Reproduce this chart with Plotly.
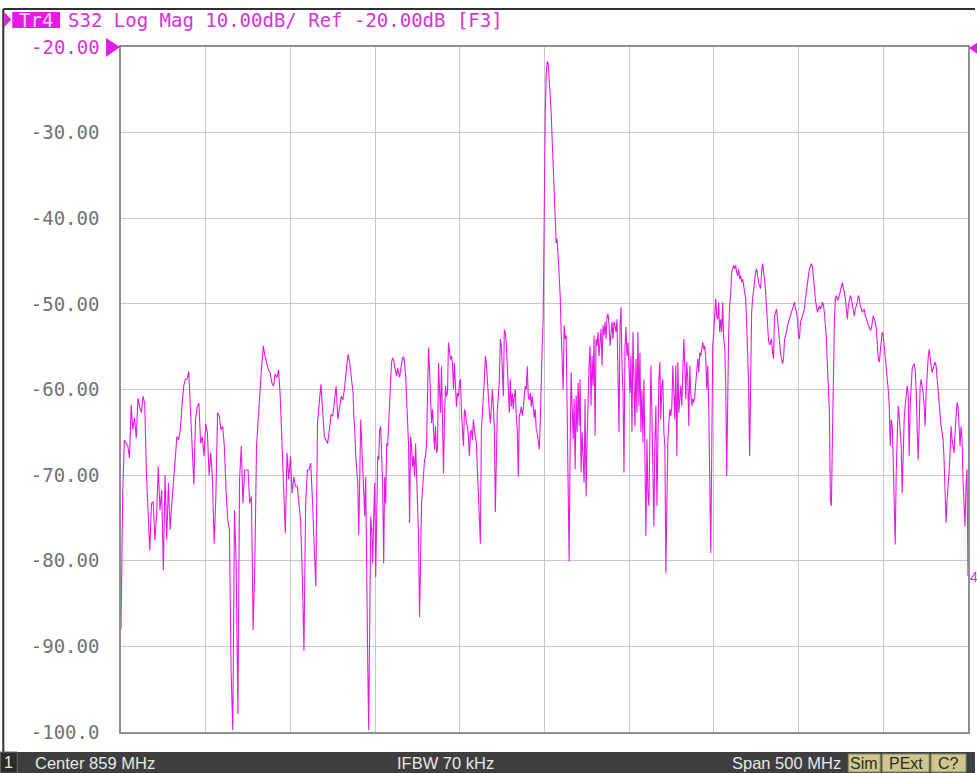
import numpy as np
import plotly.graph_objects as go

# ---- data ----
center_mhz = 859
span_mhz = 500
y_ticks = [-30, -40, -50, -60, -70, -80, -90, -100]
y_tick_text = ["-30.00", "-40.00", "-50.00", "-60.00", "-70.00", "-80.00", "-90.00", "-100.0"]
ref_level = -20

# part 1: 609..746 MHz, read every 1 MHz
s32_db_low = [
    -88, -72.1, -65.9, -66.3, -66.6, -68, -61.8, -64.7, -63.3, -65.7,
    -61, -62, -62.7, -60.8, -61.6, -69.8, -74.5, -78.8, -73.3, -73.1,
    -77.6, -74.8, -69, -74.1, -71.7, -81.1, -70, -77.6, -70.9, -76.4,
    -73.3, -70.9, -68.6, -65.5, -65.9, -64.7, -62, -59.6, -58.8, -58.8,
    -57.9, -62, -67, -71.1, -63.5, -62, -61.6, -66.3, -65.5, -67.8,
    -64, -65.1, -70, -67.4, -70.5, -78, -72.5, -62.7, -63.1, -64.7,
    -64.3, -66.6, -71.7, -75.2, -76.4, -93, -99.8, -74.1, -80.5, -97.9,
    -70.5, -66.6, -73.3, -69.4, -69.4, -69.4, -73.3, -72.5, -88.1, -80.5,
    -66.6, -62.7, -60.4, -57.3, -54.9, -56.1, -57.1, -57.7, -58, -59.2,
    -59.6, -58.2, -58.6, -57.7, -60.8, -65.5, -71.3, -76.8, -67.4, -70.5,
    -67.8, -72.1, -70.2, -71.3, -71.3, -73.7, -75.2, -81.5, -90.5, -73.3,
    -69.4, -69.4, -68.6, -72.9, -77.2, -83, -63.9, -61.6, -59.4, -62.3,
    -65.5, -65.9, -66.3, -64.7, -62.9, -63.1, -61.2, -59.6, -63.5, -62.3,
    -60.8, -61.2, -59.8, -57.7, -55.9, -56.9, -58.8, -60.4,
]
low_start_mhz, low_stop_mhz = 609, 746

# part 2: 746.4..1109 MHz, read on a finer sweep grid (617 points)
s32_db_high = [
    # 746 - 858 MHz
    -63.1, -64.7, -67.8, -70.2, -70.9, -77.0, -68.6, -63.5, -66.3, -69.4,
    -70.5, -74.8, -70.2, -85.0, -92.0, -99.8, -84.2, -74.8, -76.4, -80.3,
    -74.8, -70.9, -81.9, -73.3, -67.8, -68.2, -64.7, -64.3, -67.0, -71.3,
    -80.3, -70.2, -73.3, -66.3, -66.6, -64.7, -61.6, -58.8, -56.7, -56.3,
    -56.6, -57.3, -57.9, -58.4, -57.5, -58.0, -58.6, -57.7, -56.7, -56.3,
    -56.2, -56.9, -58.4, -61.6, -65.1, -66.6, -75.6, -65.5, -66.6, -69.0,
    -67.8, -70.2, -66.3, -70.2, -74.8, -77.2, -86.6, -77.2, -73.3, -71.7,
    -69.8, -68.2, -67.8, -66.3, -60.8, -55.1, -57.7, -62.0, -63.9, -62.3,
    -64.7, -67.0, -64.3, -67.4, -67.0, -56.9, -60.0, -62.7, -57.3, -62.3,
    -69.8, -63.1, -59.6, -60.8, -60.4, -54.5, -55.3, -56.5, -56.1, -56.9,
    -60.0, -56.9, -59.6, -62.0, -60.4, -60.8, -59.2, -58.8, -62.7, -64.7,
    -66.6, -62.3, -62.7, -63.9, -64.3, -65.5, -67.8, -65.1, -64.7, -65.9,
    -63.5, -64.7, -65.9, -66.3, -69.4, -72.1, -74.3, -78.0, -64.7, -62.0,
    -60.8, -58.8, -56.1, -56.9, -58.8, -61.6, -62.7, -63.9, -60.8, -60.0,
    -62.0, -64.7, -74.3, -66.3, -62.3, -60.8, -58.8, -54.1, -54.9, -57.7,
    -60.8, -53.0, -53.4, -54.5, -58.0, -60.8, -62.7, -58.8, -62.0, -60.4,
    -62.3, -60.8, -60.0, -63.1, -64.7, -70.2, -63.1, -62.7, -62.0, -63.1,
    -62.3, -60.8, -59.6, -60.0, -57.3, -60.8, -61.2, -60.4, -62.0, -60.8,
    -62.7, -63.3, -62.3, -64.7, -65.1, -65.9, -67.0, -63.9, -57.7, -54.9,
    -51.5,
    # main peak
    -38.6, -28.1, -23.1, -21.7, -21.9, -23.5, -25.4, -27.7, -30.9, -34.4,
    -37.5, -41.0, -42.9,
    -42.4, -44.3, -46.3, -49.0, -53.3, -58.0, -60.0, -52.5, -54.1, -53.7,
    -62.7, -71.7, -80.1, -66.6,
    # 869 - 983 MHz
    -58.0, -61.9, -65.8, -61.1, -69.3, -60.7, -65.0, -59.2, -64.3, -58.8,
    -69.7, -65.0, -67.4, -70.9, -61.1, -72.5, -65.8, -60.0, -57.2, -54.9,
    -61.9, -56.1, -59.6, -53.7, -65.4, -54.1, -54.9, -53.3, -56.1, -54.5,
    -52.9, -57.2, -52.5, -53.7, -52.1, -54.1, -51.4, -51.2, -52.5, -54.9,
    -53.3, -52.1, -54.1, -52.1, -52.5, -53.3, -51.8, -58.8, -65.0, -52.5,
    -50.4, -57.2, -60.4, -69.7, -54.9, -52.7, -56.1, -54.5, -58.0, -60.4,
    -56.1, -65.0, -53.3, -60.0, -64.3, -56.4, -62.7, -53.3, -61.9, -55.7,
    -65.0, -60.0, -66.2, -58.8, -68.9, -77.1, -65.8, -72.1, -73.6, -61.9,
    -57.2, -62.7, -67.8, -76.0, -65.8, -61.9, -73.6, -65.8, -58.8, -56.8,
    -63.5, -59.6, -58.8, -65.0, -66.6, -81.4, -73.6, -65.8, -63.9, -62.3,
    -63.1, -61.9, -57.2, -60.0, -63.5, -57.2, -67.8, -56.8, -62.7, -61.1,
    -59.6, -61.9, -58.8, -54.1, -57.2, -61.1, -56.8, -58.8, -64.3, -57.2,
    -60.4, -61.9, -61.1, -61.5, -60.7, -58.8, -58.0, -56.4, -58.0, -55.7,
    -56.1, -54.9, -54.5, -55.3, -54.9, -56.4, -60.0, -57.2, -61.9, -70.5,
    -79.1, -67.8, -54.9, -53.3, -51.0, -49.4, -51.4, -51.8, -49.8, -53.3,
    -51.8, -53.3, -49.8, -54.1, -54.9, -59.2, -70.1, -58.0, -53.3, -50.2,
    -49.0, -46.3, -45.9, -45.5, -45.9, -45.5, -46.3, -46.7, -45.9, -47.1,
    -46.7, -47.5, -47.1, -47.9, -48.6, -49.4, -52.1, -55.3, -59.6, -67.8,
    -56.1, -51.0, -49.4, -48.2, -47.1, -46.3, -45.9, -47.1, -47.5, -47.9,
    -48.2, -46.3, -45.3,
    # 984 - 1109 MHz
    -46.3, -47.1, -48.6, -50.6, -52.9, -54.3, -54.8, -54.4, -54.1, -55.7,
    -56.4, -51.4, -50.8, -50.6, -51.8, -53.3, -54.1, -55.7, -56.4, -57.0,
    -56.4, -54.1, -53.7, -53.3, -52.5, -52.1, -51.8, -51.4, -50.8, -50.6,
    -50.2, -49.8, -50.6, -51.0, -51.8, -53.7, -54.1, -52.1, -51.8, -51.4,
    -51.0, -50.6, -49.4, -48.2, -47.5, -46.7, -45.9, -45.5, -45.3, -45.7,
    -46.7, -48.2, -49.6, -50.2, -51.0, -50.6, -50.2, -50.6, -50.4, -49.8,
    -50.2, -51.0, -52.5, -54.1, -57.2, -60.0, -62.7, -72.9, -73.6, -65.8,
    -58.0, -52.1, -49.4, -49.0, -49.6, -49.4, -49.0, -48.6, -47.9, -47.5,
    -48.2, -48.6, -49.4, -51.0, -51.8, -50.2, -49.4, -49.0, -49.4, -50.2,
    -50.8, -51.4, -50.6, -50.2, -49.8, -49.0, -49.4, -50.2, -50.6, -51.0,
    -50.8, -50.6, -51.4, -51.8, -52.1, -52.5, -52.9, -53.1, -52.9, -52.1,
    -51.4, -51.8, -52.1, -52.9, -54.9, -56.4, -56.8, -55.3, -54.1, -53.3,
    -53.7, -54.9, -56.1, -57.2, -58.4, -60.0, -61.9, -66.6, -63.5, -64.3,
    -68.2, -72.9, -78.1, -69.7, -64.3, -61.9, -63.1, -65.0, -66.6, -72.1,
    -65.8, -63.5, -61.9, -60.4, -59.6, -60.4, -67.8, -61.9, -58.8, -57.6,
    -57.2, -57.0, -57.6, -60.0, -64.3, -68.2, -64.3, -59.6, -58.8, -59.6,
    -60.4, -61.9, -64.3, -60.4, -58.0, -56.4, -55.3, -56.4, -57.2, -58.0,
    -57.6, -57.2, -56.8, -57.2, -58.8, -60.7, -61.9, -62.7, -64.3, -65.0,
    -65.8, -68.2, -72.1, -75.6, -72.9, -71.7, -69.7, -67.4, -64.3, -65.8,
    -66.6, -67.4, -65.0, -62.7, -61.5, -61.9, -64.3, -66.6, -64.3, -65.8,
    -70.5, -72.9, -76.0, -71.3, -69.3, -81.8,
]
high_start_mhz, high_stop_mhz = 746.4, 1109.0

start_mhz = center_mhz - span_mhz / 2
stop_mhz = center_mhz + span_mhz / 2
freq_low = np.arange(low_start_mhz, low_stop_mhz + 1, 1.0)
freq_high = np.linspace(high_start_mhz, high_stop_mhz, len(s32_db_high))
freq_mhz = np.concatenate([freq_low, freq_high])
s32_db = list(s32_db_low) + list(s32_db_high)

# ---- layout geometry ----
W, H = 977, 773
L, R, T, B = 121, 7, 47, 41
PW, PH = W - L - R, H - T - B

def px(x):
    return (x - L) / PW

def py(y):
    return (H - B - y) / PH

MAG = "#e619e6"
MONO = "DejaVu Sans Mono"
SANS = "Liberation Sans Narrow, Arial Narrow, Liberation Sans, sans-serif"

fig = go.Figure()
fig.add_trace(go.Scatter(x=freq_mhz, y=s32_db, mode="lines",
                         line=dict(color=MAG, width=1.1), hoverinfo="skip",
                         showlegend=False))

shapes = []
annotations = []

# window frame lines
shapes.append(dict(type="line", xref="paper", yref="paper", x0=px(3), x1=px(977),
                   y0=py(9), y1=py(9), line=dict(color="#303030", width=2)))
shapes.append(dict(type="line", xref="paper", yref="paper", x0=px(3), x1=px(3),
                   y0=py(9), y1=py(752), line=dict(color="#303030", width=2)))

# header
shapes.append(dict(type="path", xref="paper", yref="paper",
                   path=f"M {px(4)},{py(12)} L {px(11)},{py(19.5)} L {px(4)},{py(27)} Z",
                   fillcolor=MAG, line=dict(width=0)))
shapes.append(dict(type="rect", xref="paper", yref="paper", x0=px(12), x1=px(60),
                   y0=py(12), y1=py(28), fillcolor=MAG, line=dict(width=0)))
annotations.append(dict(text="Tr4", xref="paper", yref="paper", x=px(36), y=py(20),
                        xanchor="center", yanchor="middle", showarrow=False,
                        font=dict(family=MONO, size=19, color="#ffd8ff")))
annotations.append(dict(text="S32 Log Mag 10.00dB/ Ref -20.00dB [F3]", xref="paper",
                        yref="paper", x=px(66), y=py(20), xanchor="left", yanchor="middle",
                        showarrow=False, font=dict(family=MONO, size=19, color="#d633d6")))

# reference level label and markers
annotations.append(dict(text="-20.00", xref="paper", yref="y", x=px(102), y=ref_level,
                        xanchor="right", yanchor="middle", showarrow=False,
                        font=dict(family=MONO, size=19, color="#d633d6")))
shapes.append(dict(type="path", xref="paper", yref="paper",
                   path=f"M {px(106)},{py(38)} L {px(120)},{py(47)} L {px(106)},{py(57)} Z",
                   fillcolor=MAG, line=dict(width=0)))
shapes.append(dict(type="path", xref="paper", yref="paper",
                   path=f"M {px(971)},{py(48)} L {px(985)},{py(39)} L {px(985)},{py(58)} Z",
                   fillcolor=MAG, line=dict(width=0)))
annotations.append(dict(text="4", xref="paper", yref="paper", x=px(970), y=py(577),
                        xanchor="left", yanchor="middle", showarrow=False,
                        font=dict(family=SANS, size=14, color=MAG)))

# status bar
shapes.append(dict(type="rect", xref="paper", yref="paper", x0=px(0), x1=px(977),
                   y0=py(752), y1=py(773), fillcolor="#3e3e3e", line=dict(width=0),
                   layer="above"))
shapes.append(dict(type="rect", xref="paper", yref="paper", x0=px(0), x1=px(17),
                   y0=py(752), y1=py(773), fillcolor="#2a2a2a",
                   line=dict(color="#6a6a6a", width=1), layer="above"))
annotations.append(dict(text="1", xref="paper", yref="paper", x=px(8.5), y=py(762.5),
                        xanchor="center", yanchor="middle", showarrow=False,
                        font=dict(family=SANS, size=16, color="#e8e8e8")))
for txt, x in [("Center 859 MHz", 33), ("IFBW 70 kHz", 396), ("Span 500 MHz", 731)]:
    annotations.append(dict(text=txt, xref="paper", yref="paper", x=px(x), y=py(762.5),
                            xanchor="left", yanchor="middle", showarrow=False,
                            font=dict(family=SANS, size=16.5, color="#e8e8e8")))
for txt, x0, x1 in [("Sim", 850, 882), ("PExt", 884, 931), ("C?", 933, 968)]:
    shapes.append(dict(type="rect", xref="paper", yref="paper", x0=px(x0), x1=px(x1),
                       y0=py(754), y1=py(772), fillcolor="#cdc78e",
                       line=dict(color="#8a8660", width=1), layer="above"))
    annotations.append(dict(text=txt, xref="paper", yref="paper", x=px((x0 + x1) / 2),
                            y=py(763), xanchor="center", yanchor="middle", showarrow=False,
                            font=dict(family=SANS, size=16, color="#2a2a2a")))

fig.update_layout(
    width=W, height=H,
    margin=dict(l=L, r=R, t=T, b=B, pad=0),
    paper_bgcolor="white", plot_bgcolor="white",
    shapes=shapes, annotations=annotations,
    xaxis=dict(range=[start_mhz, stop_mhz], tick0=start_mhz, dtick=span_mhz / 10,
               showticklabels=False, ticks="", showgrid=True, gridcolor="#c8c8c8",
               gridwidth=1, zeroline=False, showline=True, linecolor="#8f8f8f",
               linewidth=1.5, mirror=True, fixedrange=True),
    yaxis=dict(range=[-100, ref_level], tickvals=y_ticks, ticktext=y_tick_text,
               tickfont=dict(family=MONO, size=19, color="#727272"),
               ticks="", ticklabelstandoff=16, showgrid=True, gridcolor="#c8c8c8",
               gridwidth=1, zeroline=False, showline=True, linecolor="#8f8f8f",
               linewidth=1.5, mirror=True, fixedrange=True),
)

fig.write_html("out.html", config={"displayModeBar": False},
               post_script="document.body.style.margin='0';document.body.style.overflow='hidden';")
